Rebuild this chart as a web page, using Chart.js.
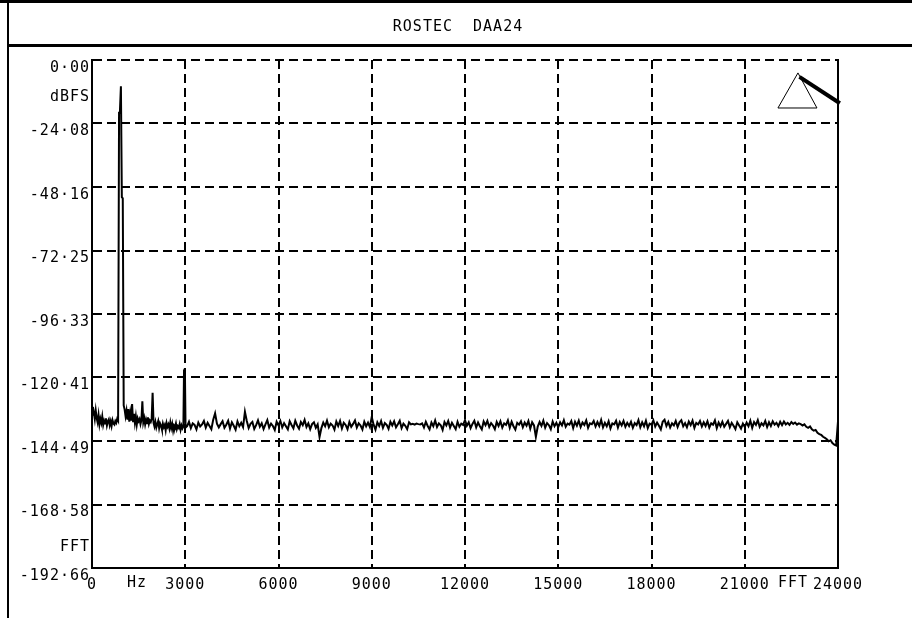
<!DOCTYPE html>
<html>
<head>
<meta charset="utf-8">
<title>ROSTEC DAA24 FFT</title>
<script src="https://cdn.jsdelivr.net/npm/chart.js@4.4.1/dist/chart.umd.min.js"></script>
<style>
  html, body { margin: 0; padding: 0; background: #fff; }
  canvas { display: block; }
</style>
</head>
<body>
<canvas id="fftChart" width="912" height="618"></canvas>
<script>
// Tiêu đề và nhãn trục
const chartTitle = 'ROSTEC  DAA24';
const xTickValues = [0, 3000, 6000, 9000, 12000, 15000, 18000, 21000, 24000];
const yTickValues = [0, -24.08, -48.16, -72.25, -96.33, -120.41, -144.49, -168.58, -192.66];

// Dải thấp: nhiễu nền trước đỉnh chính
const startHz = [
    0, 30, 60, 90, 120, 150, 180, 210, 240, 270,
    300, 330, 360, 390, 420, 450, 480, 510, 540, 570,
    600, 630, 660, 690, 720, 750, 780, 810, 840
];
const startDb = [
    -134.5, -131.6, -133.8, -136.2, -132.9, -135.8, -137.4, -134.6, -138.2, -136.1,
    -137.6, -135.2, -138.4, -136.8, -137.9, -135.9, -138.6, -137.1, -136.3, -138.5,
    -137.0, -138.8, -136.6, -137.9, -138.3, -136.9, -137.6, -136.1, -136.8
];

// Đỉnh chính ~930 Hz
const peakHz = [870, 900, 930, 960, 990, 1020];
const peakDb = [-20.0, -19.0, -10.0, -52.0, -52.5, -131.0];

// Sau đỉnh: các hài nhỏ rồi vạch ~2970 Hz
const afterPeakHz = [
    1050, 1080, 1110, 1140, 1170, 1200, 1230, 1260, 1290, 1320,
    1350, 1380, 1410, 1440, 1470, 1500, 1530, 1560, 1590, 1620,
    1650, 1680, 1710, 1740, 1770, 1800, 1830, 1860, 1890, 1920,
    1950, 1980, 2010, 2040, 2070, 2100, 2130, 2160, 2190, 2220,
    2250, 2280, 2310, 2340, 2370, 2400, 2430, 2460, 2490, 2520,
    2550, 2580, 2610, 2640, 2670, 2700, 2730, 2760, 2790, 2820,
    2850, 2880, 2910, 2940, 2960, 2990, 3010
];
const afterPeakDb = [
    -132.6, -135.1, -133.0, -136.4, -132.4, -137.2, -134.0, -136.8, -130.5, -137.0,
    -134.2, -137.6, -135.1, -138.3, -135.9, -137.0, -136.2, -138.1, -136.6, -129.4,
    -137.4, -135.8, -138.2, -136.4, -137.8, -135.5, -138.0, -136.7, -137.3, -136.1,
    -126.2, -137.6, -139.0, -137.3, -139.4, -138.1, -136.9, -139.6, -137.8, -138.6,
    -140.1, -137.9, -139.3, -138.4, -140.4, -137.7, -139.1, -138.2, -139.8, -137.5,
    -139.6, -138.0, -140.5, -138.6, -139.2, -137.8, -140.0, -138.9, -139.5, -138.1,
    -140.2, -138.6, -139.7, -139.0, -118.5, -119.2, -139.4
];

// Nhiễu nền từ 3060 Hz đến 24000 Hz
const floorHz = [
    3060, 3120, 3180, 3240, 3300, 3360, 3420, 3480, 3540, 3600,
    3660, 3720, 3780, 3840, 3900, 3960, 4020, 4080, 4140, 4200,
    4260, 4320, 4380, 4440, 4500, 4560, 4620, 4680, 4740, 4800,
    4860, 4920, 4980, 5040, 5100, 5160, 5220, 5280, 5340, 5400,
    5460, 5520, 5580, 5640, 5700, 5760, 5820, 5880, 5940, 6000,
    6060, 6120, 6180, 6240, 6300, 6360, 6420, 6480, 6540, 6600,
    6660, 6720, 6780, 6840, 6900, 6960, 7020, 7080, 7140, 7200,
    7260, 7320, 7380, 7440, 7500, 7560, 7620, 7680, 7740, 7800,
    7860, 7920, 7980, 8040, 8100, 8160, 8220, 8280, 8340, 8400,
    8460, 8520, 8580, 8640, 8700, 8760, 8820, 8880, 8940, 9000,
    9060, 9120, 9180, 9240, 9300, 9360, 9420, 9480, 9540, 9600,
    9660, 9720, 9780, 9840, 9900, 9960, 10020, 10080, 10140, 10200,
    10260, 10320, 10380, 10440, 10500, 10560, 10620, 10680, 10740, 10800,
    10860, 10920, 10980, 11040, 11100, 11160, 11220, 11280, 11340, 11400,
    11460, 11520, 11580, 11640, 11700, 11760, 11820, 11880, 11940, 12000,
    12060, 12120, 12180, 12240, 12300, 12360, 12420, 12480, 12540, 12600,
    12660, 12720, 12780, 12840, 12900, 12960, 13020, 13080, 13140, 13200,
    13260, 13320, 13380, 13440, 13500, 13560, 13620, 13680, 13740, 13800,
    13860, 13920, 13980, 14040, 14100, 14160, 14220, 14280, 14340, 14400,
    14460, 14520, 14580, 14640, 14700, 14760, 14820, 14880, 14940, 15000,
    15060, 15120, 15180, 15240, 15300, 15360, 15420, 15480, 15540, 15600,
    15660, 15720, 15780, 15840, 15900, 15960, 16020, 16080, 16140, 16200,
    16260, 16320, 16380, 16440, 16500, 16560, 16620, 16680, 16740, 16800,
    16860, 16920, 16980, 17040, 17100, 17160, 17220, 17280, 17340, 17400,
    17460, 17520, 17580, 17640, 17700, 17760, 17820, 17880, 17940, 18000,
    18060, 18120, 18180, 18240, 18300, 18360, 18420, 18480, 18540, 18600,
    18660, 18720, 18780, 18840, 18900, 18960, 19020, 19080, 19140, 19200,
    19260, 19320, 19380, 19440, 19500, 19560, 19620, 19680, 19740, 19800,
    19860, 19920, 19980, 20040, 20100, 20160, 20220, 20280, 20340, 20400,
    20460, 20520, 20580, 20640, 20700, 20760, 20820, 20880, 20940, 21000,
    21060, 21120, 21180, 21240, 21300, 21360, 21420, 21480, 21540, 21600,
    21660, 21720, 21780, 21840, 21900, 21960, 22020, 22080, 22140, 22200,
    22260, 22320, 22380, 22440, 22500, 22560, 22620, 22680, 22740, 22800,
    22860, 22920, 22980, 23040, 23100, 23160, 23220, 23280, 23340, 23400,
    23460, 23520, 23580, 23640, 23700, 23760, 23820, 23880, 23940, 24000
];
const floorDb = [
    -138.9, -137.2, -139.6, -137.8, -138.4, -140.1, -137.5, -139.0, -138.2, -136.9,
    -139.4, -137.6, -138.8, -140.0, -136.4, -134.0, -137.9, -139.3, -138.1, -137.0,
    -139.5, -138.3, -136.8, -139.8, -137.4, -138.7, -140.2, -137.1, -138.9, -137.6,
    -139.2, -133.4, -136.9, -139.6, -138.0, -137.3, -139.9, -138.5, -136.7, -139.1,
    -137.8, -140.0, -138.2, -136.6, -139.4, -137.9, -138.8, -140.3, -137.2, -138.6,
    -136.9, -139.3, -137.7, -138.9, -140.1, -137.0, -138.4, -139.7, -136.8, -138.6,
    -139.8, -137.3, -138.5, -136.5, -139.2, -137.8, -140.0, -138.1, -137.4, -139.5,
    -138.2, -143.0, -139.6, -137.5, -138.9, -136.8, -139.3, -137.9, -138.6, -140.2,
    -137.1, -138.8, -136.9, -139.7, -137.6, -138.4, -140.0, -137.3, -139.1, -138.0,
    -136.7, -139.4, -137.8, -138.6, -140.1, -137.2, -138.9, -137.5, -139.2, -135.4,
    -138.3, -140.2, -137.4, -138.8, -136.9, -139.5, -137.7, -138.4, -139.9, -137.2,
    -138.6, -137.0, -139.3, -138.1, -136.8, -139.6, -137.9, -138.7, -140.0, -137.4,
    -138.2, -138.0, -138.3, -137.9, -138.1, -138.2, -137.8, -139.4, -137.2, -138.8,
    -140.1, -137.5, -138.9, -136.7, -139.2, -137.8, -138.5, -140.3, -137.3, -138.6,
    -136.9, -139.4, -137.6, -138.8, -140.0, -137.2, -139.1, -137.9, -138.4, -136.6,
    -138.7, -137.4, -139.6, -138.0, -136.8, -139.3, -137.5, -138.9, -140.1, -137.1,
    -138.5, -136.9, -139.2, -137.7, -138.6, -140.0, -137.3, -138.8, -137.0, -139.4,
    -137.8, -138.4, -136.7, -139.5, -137.2, -138.9, -140.2, -137.6, -138.3, -137.0,
    -139.3, -137.5, -138.7, -136.9, -139.8, -137.4, -138.6, -142.9, -139.0, -137.3,
    -138.8, -136.8, -139.4, -137.7, -138.5, -140.0, -137.1, -138.9, -137.6, -139.2,
    -137.4, -138.6, -136.6, -139.1, -137.9, -138.3, -136.9, -139.6, -137.2, -138.7,
    -136.8, -139.2, -137.5, -138.4, -136.7, -139.5, -137.8, -138.1, -136.9, -139.0,
    -137.3, -138.8, -136.5, -139.3, -137.6, -138.9, -137.0, -139.7, -137.8, -138.2,
    -136.8, -139.4, -137.3, -138.6, -136.9, -139.1, -137.6, -138.8, -137.2, -139.5,
    -137.7, -138.5, -136.6, -139.3, -137.4, -138.9, -136.8, -139.6, -137.9, -138.3,
    -136.7, -139.0, -137.5, -138.7, -140.1, -137.2, -136.4, -138.8, -137.3, -139.4,
    -137.8, -138.6, -136.9, -139.2, -137.4, -136.6, -138.9, -137.7, -139.3, -137.1,
    -138.5, -136.8, -139.5, -137.6, -138.2, -136.9, -139.0, -137.4, -138.8, -137.0,
    -139.4, -137.8, -138.3, -136.7, -139.6, -137.5, -138.9, -137.2, -139.1, -138.0,
    -136.9, -139.3, -137.6, -138.7, -140.0, -137.4, -138.6, -139.8, -137.9, -139.2,
    -137.5, -138.9, -136.8, -139.5, -137.3, -138.4, -136.6, -139.1, -137.8, -138.6,
    -136.9, -139.2, -137.4, -138.8, -137.0, -138.3, -137.6, -138.9, -137.2, -138.5,
    -137.1, -138.2, -137.6, -138.4, -137.3, -138.0, -137.5, -138.3, -137.8, -138.1,
    -138.6, -138.2, -139.1, -139.5, -139.0, -140.1, -140.6, -140.3, -141.4, -141.9,
    -142.2, -142.9, -143.3, -143.8, -144.6, -144.2, -145.3, -145.9, -146.2, -137.0
];

// Hình tam giác đánh dấu ở góc trên bên phải (toạ độ theo Hz / dB)
const markerTriangleHz = [22712, 22068, 23323];
const markerTriangleDb = [-4.9, -18.2, -18.2];
const markerLineHz = [22760, 24060];
const markerLineDb = [-6.4, -16.4];

const FONT = { family: '"DejaVu Sans Mono", monospace', size: 15 };

// Ghép dữ liệu thành các điểm {x, y}
const points = [];
[[startHz, startDb], [peakHz, peakDb], [afterPeakHz, afterPeakDb], [floorHz, floorDb]].forEach(([hz, db]) => {
    hz.forEach((f, i) => points.push({ x: f, y: db[i] }));
});

function fmtDb(v) {
    return Math.abs(v) < 1e-9 ? '0·00' : v.toFixed(2).replace('.', '·');
}

// Plugin vẽ khung, tiêu đề và các ghi chú
const framePlugin = {
    id: 'frame',
    beforeDraw(chart) {
        const ctx = chart.ctx;
        ctx.save();
        ctx.fillStyle = '#fff';
        ctx.fillRect(0, 0, chart.width, chart.height);
        ctx.restore();
        ctx.letterSpacing = '1px';
    },
    afterDraw(chart) {
        const ctx = chart.ctx;
        const area = chart.chartArea;
        const xs = chart.scales.x;
        const ys = chart.scales.y;
        ctx.save();
        ctx.fillStyle = '#000';
        ctx.fillRect(0, 0, chart.width, 3);
        ctx.fillRect(7, 0, 2, chart.height);
        ctx.fillRect(7, 44, chart.width - 7, 3);

        ctx.font = FONT.size + 'px ' + FONT.family;
        ctx.textAlign = 'center';
        ctx.textBaseline = 'middle';
        ctx.fillText(chartTitle, 458, 27);

        // khung phải liền nét
        ctx.strokeStyle = '#000';
        ctx.lineWidth = 2;
        ctx.beginPath();
        ctx.moveTo(area.right, area.top - 1);
        ctx.lineTo(area.right, area.bottom + 1);
        ctx.stroke();

        // nhãn phụ
        ctx.textAlign = 'right';
        ctx.fillText('dBFS', area.left - 2, ys.getPixelForValue(-14.2));
        ctx.fillText('FFT', area.left - 2, ys.getPixelForValue(-184.7));
        ctx.textAlign = 'center';
        ctx.fillText('Hz', xs.getPixelForValue(1450), area.bottom + 15);
        ctx.fillText('FFT', xs.getPixelForValue(22550), area.bottom + 15);

        // tam giác đánh dấu
        ctx.lineWidth = 1;
        ctx.beginPath();
        markerTriangleHz.forEach((f, i) => {
            const px = xs.getPixelForValue(f);
            const py = ys.getPixelForValue(markerTriangleDb[i]);
            if (i === 0) ctx.moveTo(px, py); else ctx.lineTo(px, py);
        });
        ctx.closePath();
        ctx.stroke();
        ctx.lineWidth = 4;
        ctx.beginPath();
        ctx.moveTo(xs.getPixelForValue(markerLineHz[0]), ys.getPixelForValue(markerLineDb[0]));
        ctx.lineTo(xs.getPixelForValue(markerLineHz[1]), ys.getPixelForValue(markerLineDb[1]));
        ctx.stroke();
        ctx.restore();
    }
};

const ctx = document.getElementById('fftChart').getContext('2d');
new Chart(ctx, {
    type: 'line',
    data: {
        datasets: [{
            data: points,
            borderColor: '#000',
            borderWidth: 2,
            pointRadius: 0,
            tension: 0,
            fill: false
        }]
    },
    options: {
        responsive: false,
        animation: false,
        layout: { padding: { left: 8, right: 74, top: 60, bottom: 0 } },
        plugins: {
            legend: { display: false },
            tooltip: { enabled: false }
        },
        scales: {
            x: {
                type: 'linear',
                min: 0,
                max: 24000,
                afterBuildTicks: axis => { axis.ticks = xTickValues.map(v => ({ value: v })); },
                afterFit: axis => { axis.height = 50; },
                ticks: {
                    callback: v => String(v),
                    font: FONT,
                    color: '#000',
                    padding: 8,
                    maxRotation: 0,
                    autoSkip: false
                },
                grid: { color: '#000', lineWidth: 2, drawTicks: false },
                border: { display: true, color: '#000', width: 2, dash: [9, 5] }
            },
            y: {
                type: 'linear',
                min: -192.66,
                max: 0,
                afterBuildTicks: axis => { axis.ticks = yTickValues.map(v => ({ value: v })); },
                afterFit: axis => { axis.width = 84; },
                ticks: {
                    callback: v => fmtDb(v),
                    font: FONT,
                    color: '#000',
                    padding: 2,
                    labelOffset: 8,
                    autoSkip: false
                },
                grid: { color: '#000', lineWidth: 2, drawTicks: false },
                border: { display: true, color: '#000', width: 2, dash: [9, 5] }
            }
        }
    },
    plugins: [framePlugin]
});
</script>
</body>
</html>
